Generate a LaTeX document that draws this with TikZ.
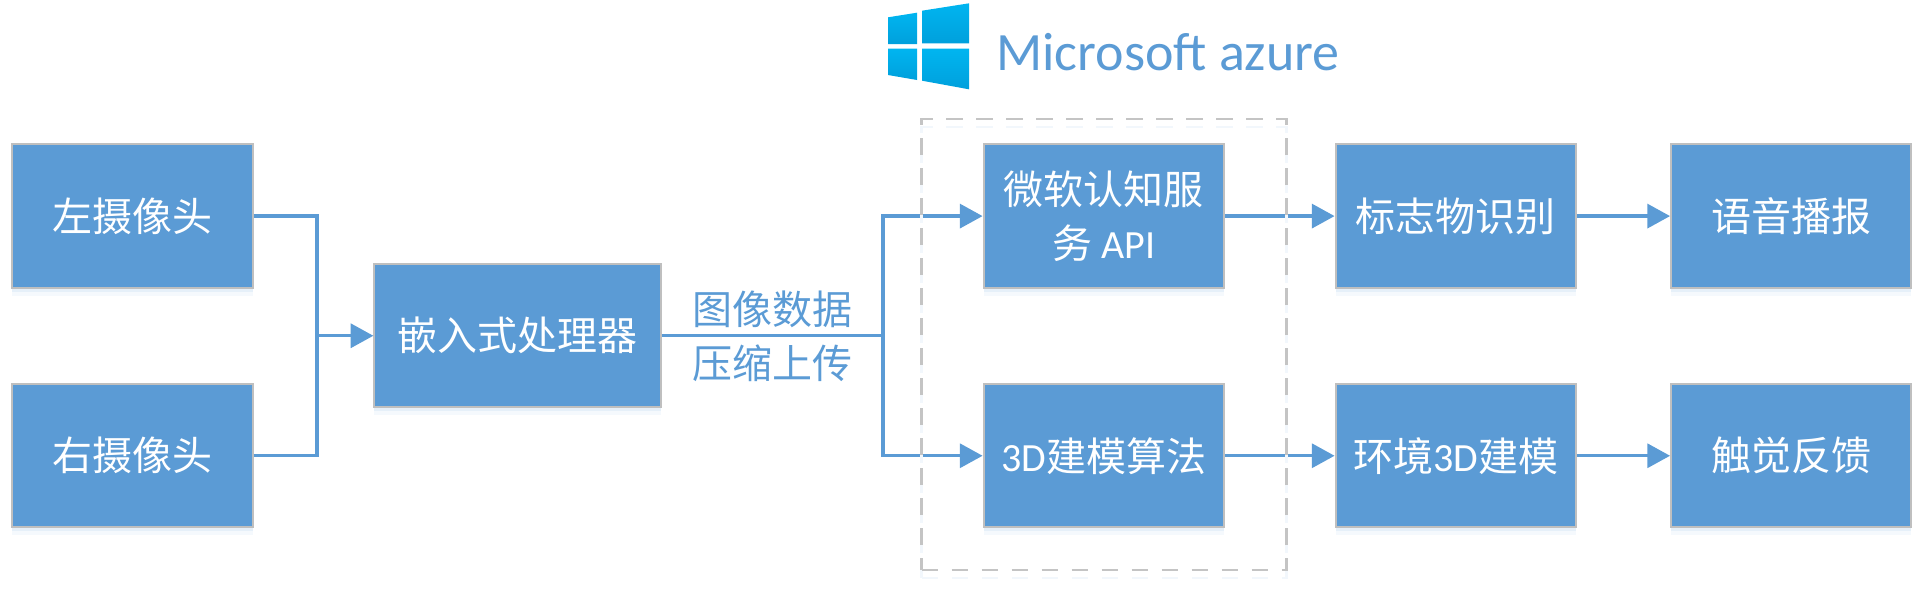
\documentclass[tikz,border=0pt]{standalone}
\usepackage{fontspec}
\setmainfont{Noto Sans CJK SC}
\newfontfamily\latn{Carlito}
\usetikzlibrary{positioning,arrows.meta,shadows}
\definecolor{boxblue}{HTML}{5B9BD5}
\definecolor{boxedge}{HTML}{BFBFBF}
\definecolor{dashgray}{HTML}{C4C4C4}
\definecolor{logotop}{HTML}{00B5F0}
\definecolor{logobot}{HTML}{00A0DC}
\begin{document}
\begin{tikzpicture}[x=0.75pt, y=-0.75pt,
    blockbox/.style={rectangle, draw=boxedge, line width=1.5pt, fill=boxblue, text=white, align=center,
        minimum width=180.2pt, minimum height=107.5pt, inner sep=0pt,
        font=\fontsize{30}{41}\selectfont,
        drop shadow={shadow xshift=0pt, shadow yshift=-3pt, opacity=.10, fill=boxblue},
        drop shadow={shadow xshift=0pt, shadow yshift=-6pt, opacity=.06, fill=boxblue}},
    flowline/.style={draw=boxblue, line width=2.4pt},
    flowarrow/.style={flowline, -{Triangle[length=17pt, width=18pt]}},
    edgelabel/.style={text=boxblue, inner sep=0pt, font=\fontsize{30}{30}\selectfont},
    framebox/.style={line width=2.2pt, dash pattern=on 12.5pt off 10pt, minimum width=273.75pt, minimum height=338.25pt, inner sep=0pt},
    logopane/.style={top color=logotop, bottom color=logobot}]
    \useasboundingbox (0,0) rectangle (1926,590);

    % Nodes
    \node[blockbox] (LeftCam) at (132.5,216) {左摄像头};
    \node[blockbox] (RightCam) [below=70.75pt of LeftCam] {右摄像头};
    \node[blockbox, minimum width=214.7pt] (Proc) at (517.5,335.75) {嵌入式处理器};
    \node[blockbox] (ApiSvc) [right=240.7pt of Proc, yshift=89.75pt] {微软认知服\\务 {\latn API}};
    \node[blockbox] (Model) [below=70.75pt of ApiSvc] {{\latn 3D}建模算法};
    \node[blockbox] (Marker) [right=82.3pt of ApiSvc] {标志物识别};
    \node[blockbox] (EnvModel) [right=82.3pt of Model] {环境{\latn 3D}建模};
    \node[blockbox] (Speech) [right=69.9pt of Marker] {语音播报};
    \node[blockbox] (Haptic) [right=69.9pt of EnvModel] {触觉反馈};
    \node[edgelabel] (UpTop) at (772,309.5) {图像数据};
    \node[edgelabel] (UpBot) at (772,363.5) {压缩上传};
    \node[text=boxblue, inner sep=0pt, anchor=base west, font=\latn\fontsize{40.5}{40.5}\selectfont] (Azure) at (996,70) {Microsoft azure};
    \coordinate (merge) at (317,335.75);
    \coordinate (split) at (883,335.75);

    % Arrows
    \draw[flowline] (LeftCam) -| (merge);
    \draw[flowline] (RightCam) -| (merge);
    \draw[flowarrow] (merge) -- (Proc);
    \draw[flowline] (Proc) -- (split);
    \draw[flowarrow] (split) |- (ApiSvc);
    \draw[flowarrow] (split) |- (Model);
    \draw[flowarrow] (ApiSvc) -- (Marker);
    \draw[flowarrow] (Model) -- (EnvModel);
    \draw[flowarrow] (Marker) -- (Speech);
    \draw[flowarrow] (EnvModel) -- (Haptic);

    % Dashed frame
    \node[framebox, draw=boxblue!8] (AzureGlow) at (1104,352.5) {};
    \node[framebox, draw=dashgray] (AzureBox) at (1104,344.5) {};

    % Logo
    \shade[logopane] (888,17.3) -- (917,12.7) -- (917,44) -- (888,44) -- cycle;
    \shade[logopane] (922,10.7) -- (969,3.3) -- (969,43.3) -- (922,43.3) -- cycle;
    \shade[logopane] (888,48.7) -- (917,48.7) -- (917,80) -- (888,75) -- cycle;
    \shade[logopane] (922,48.7) -- (969,48.7) -- (969,89.3) -- (922,80.7) -- cycle;
\end{tikzpicture}
\end{document}
